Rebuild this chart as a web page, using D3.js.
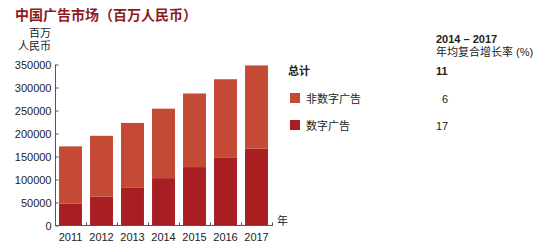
<!DOCTYPE html>
<html>
<head>
<meta charset="utf-8">
<script src="https://cdn.jsdelivr.net/npm/d3@7"></script>
<style>
	body { margin: 0; background: #fff; }
	svg text { font-family: "Liberation Sans", "Noto Sans CJK SC", sans-serif; fill: #222; }
</style>
</head>
<body>
<div id="chart"></div>
<script>
// chart data (millions of RMB)
var years = ["2011", "2012", "2013", "2014", "2015", "2016", "2017"];
var digital = [48000, 63000, 83000, 103000, 127000, 147000, 167000];
var nonDigital = [124000, 132000, 140000, 151000, 160000, 171000, 181000];
var yTicks = [0, 50000, 100000, 150000, 200000, 250000, 300000, 350000];

// legend / growth table
var legendLabels = ["总计", "非数字广告", "数字广告"];
var legendValues = ["11", "6", "17"];

var colors = { nonDigital: "#c44a36", digital: "#a91e23" };

var svgWidth = 550;
var svgHeight = 244;

var svg = d3.select("#chart")
	.append("svg")
	.attr("width", svgWidth)
	.attr("height", svgHeight);

var data = years.map((y, i) => ({ year: y, digital: digital[i], nonDigital: nonDigital[i] }));
var stacked = d3.stack().keys(["digital", "nonDigital"])(data);

var xScale = d3.scaleBand()
	.domain(years)
	.range([55, 272])
	.paddingInner(0.26)
	.paddingOuter(0.13);

var yScale = d3.scaleLinear()
	.domain([0, 350000])
	.range([225.5, 64.5]);

// title
svg.append("text")
	.attr("x", 15)
	.attr("y", 20)
	.attr("font-size", 14)
	.attr("font-weight", "bold")
	.style("font-family", "'Noto Sans CJK SC', serif")
	.style("fill", "#8e1b1f")
	.text("中国广告市场（百万人民币）");

// unit label
svg.append("text")
	.attr("x", 51)
	.attr("y", 37)
	.attr("text-anchor", "end")
	.attr("font-size", 11)
	.text("百万");
svg.append("text")
	.attr("x", 51)
	.attr("y", 50)
	.attr("text-anchor", "end")
	.attr("font-size", 11)
	.text("人民币");

// bars
svg.selectAll("g.layer")
	.data(stacked)
	.enter()
	.append("g")
	.attr("class", "layer")
	.attr("fill", d => colors[d.key])
	.selectAll("rect")
	.data(d => d)
	.enter()
	.append("rect")
	.attr("x", d => xScale(d.data.year))
	.attr("y", d => yScale(d[1]))
	.attr("width", xScale.bandwidth())
	.attr("height", d => yScale(d[0]) - yScale(d[1]));

// y axis
var leftAxis = d3.axisRight(yScale)
	.tickValues(yTicks)
	.tickSize(3)
	.tickFormat(d3.format("d"));

var yAxis = svg.append("g")
	.attr("transform", "translate(55.5, 0)")
	.call(leftAxis);
yAxis.select(".domain").attr("stroke", "#555").attr("d", "M0," + yScale(350000) + "V" + yScale(0));
yAxis.selectAll(".tick line").attr("stroke", "#555");
yAxis.selectAll(".tick text")
	.attr("x", -4)
	.attr("text-anchor", "end")
	.attr("font-size", 11)
	.style("font-family", "'Liberation Sans', sans-serif")
	.attr("fill", "#222");

// x axis
var bottomAxis = d3.axisBottom(xScale).tickSize(0).tickPadding(8);
var xAxis = svg.append("g")
	.attr("transform", "translate(0, " + yScale(0) + ")")
	.call(bottomAxis);
xAxis.select(".domain").attr("stroke", "#555").attr("d", "M55,0H273");
xAxis.selectAll(".tick text")
	.attr("font-size", 11)
	.style("font-family", "'Liberation Sans', sans-serif")
	.attr("fill", "#222");

// small separators between bars
var step = xScale.step();
xAxis.selectAll("line.sep")
	.data(years)
	.enter()
	.append("line")
	.attr("class", "sep")
	.attr("x1", (d, i) => 55 + step * (i + 1) + 0.5)
	.attr("x2", (d, i) => 55 + step * (i + 1) + 0.5)
	.attr("y1", 0)
	.attr("y2", -3)
	.attr("stroke", "#555");

svg.append("text")
	.attr("x", 277)
	.attr("y", 225)
	.attr("font-size", 11)
	.text("年");

// growth table header
svg.append("text")
	.attr("x", 436)
	.attr("y", 43)
	.attr("font-size", 11)
	.attr("font-weight", "bold")
	.text("2014 – 2017");
svg.append("text")
	.attr("x", 436)
	.attr("y", 56)
	.attr("font-size", 11)
	.text("年均复合增长率 (%)");

// legend rows
var rowY = [75, 103, 130];
legendLabels.forEach((label, i) => {
	if (i > 0) {
		svg.append("rect")
			.attr("x", 290)
			.attr("y", rowY[i] - 10)
			.attr("width", 10)
			.attr("height", 10)
			.attr("fill", i === 1 ? colors.nonDigital : colors.digital);
	}
	svg.append("text")
		.attr("x", i === 0 ? 288 : 306)
		.attr("y", rowY[i])
		.attr("font-size", 11)
		.attr("font-weight", i === 0 ? "bold" : "normal")
		.text(label);
	svg.append("text")
		.attr("x", legendValues[i].length === 1 ? 442 : 436)
		.attr("y", rowY[i])
		.attr("font-size", 11)
		.attr("font-weight", i === 0 ? "bold" : "normal")
		.text(legendValues[i]);
});
</script>
</body>
</html>
